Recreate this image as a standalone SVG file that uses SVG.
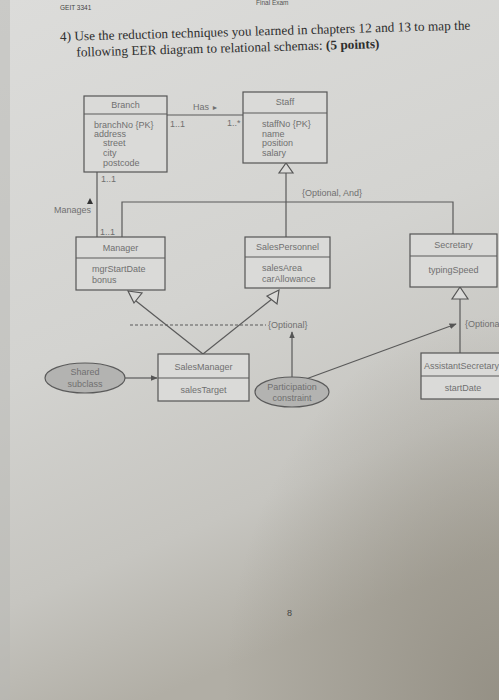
<svg xmlns="http://www.w3.org/2000/svg" width="499" height="700" viewBox="0 0 499 700">
<defs>
<linearGradient id="bg" x1="0" y1="0" x2="0.3" y2="1">
<stop offset="0" stop-color="#dcdcda"/>
<stop offset="0.5" stop-color="#d3d3d0"/>
<stop offset="0.8" stop-color="#c6c5c0"/>
<stop offset="1" stop-color="#b1aea5"/>
</linearGradient>
<radialGradient id="shade" cx="1" cy="1" r="0.55">
<stop offset="0" stop-color="#8c877b" stop-opacity="0.75"/>
<stop offset="1" stop-color="#8c877b" stop-opacity="0"/>
</radialGradient>
<marker id="ah" viewBox="0 0 10 10" refX="9" refY="5" markerWidth="6" markerHeight="6" orient="auto">
<path d="M0,1 L10,5 L0,9 z" fill="#555"/>
</marker>
<style>
.ln{stroke:#5a5a5a;stroke-width:1.2;fill:none}
.box{stroke:#555;stroke-width:1.2;fill:#dadad8}
.t{font-family:"Liberation Sans",Arial,sans-serif;font-size:9px;fill:#707070}
.tc{text-anchor:middle}
.ell{fill:#b3b3b1;stroke:#5a5a5a;stroke-width:1.2}
.tri{fill:#dadad8;stroke:#555;stroke-width:1.2}
.q{font-family:"Liberation Serif","Times New Roman",serif;font-size:13.3px;fill:#2e2e2e}
</style>
</defs>
<rect width="499" height="700" fill="url(#bg)"/>
<rect width="499" height="700" fill="url(#shade)"/>
<rect x="0" y="0" width="10" height="700" fill="#b8b8b4" opacity="0.5"/>

<text x="60" y="10" style="font-family:'Liberation Sans',Arial,sans-serif;font-size:6.5px;fill:#444">GEIT 3341</text>
<text x="256" y="5" style="font-family:'Liberation Sans',Arial,sans-serif;font-size:6.5px;fill:#555">Final Exam</text>
<g transform="rotate(-1.6 60 40)">
<text class="q" x="60" y="41">4)  Use the reduction techniques you learned in chapters 12 and 13 to map the</text>
<text class="q" x="76" y="57">following EER diagram to relational schemas:   <tspan font-weight="bold">(5 points)</tspan></text>
</g>

<g id="connectors">
<line class="ln" x1="167" y1="115" x2="243" y2="115"/>
<line class="ln" x1="97" y1="172" x2="97" y2="237"/>
<polyline class="ln" points="122,237 122,202 453,202 453,234"/>
<line class="ln" x1="286" y1="173" x2="286" y2="237"/>
<line class="ln" x1="460" y1="299" x2="460" y2="353"/>
<line class="ln" x1="136" y1="301" x2="203" y2="354"/>
<line class="ln" x1="272" y1="299" x2="203" y2="354"/>
<line class="ln" x1="130" y1="325" x2="266" y2="325" stroke-dasharray="3,2"/>
<line class="ln" x1="125" y1="378" x2="157" y2="378" marker-end="url(#ah)"/>
<line class="ln" x1="292" y1="377" x2="292" y2="332" marker-end="url(#ah)"/>
<line class="ln" x1="306" y1="379" x2="456" y2="324" marker-end="url(#ah)"/>
<polygon class="tri" points="286,163 279,173 293,173"/>
<polygon class="tri" points="460,287 452,299 468,299"/>
<polygon class="tri" points="128,291 142,293 134,303"/>
<polygon class="tri" points="279,290 277,304 267,296"/>
<path d="M87,204 L90,198 L93,204 z" fill="#333"/>
<text class="t" x="193" y="110">Has <tspan font-size="7">►</tspan></text>
<text class="t" x="170" y="127">1..1</text>
<text class="t" x="227" y="126">1..*</text>
<text class="t" x="101" y="182">1..1</text>
<text class="t" x="54" y="213">Manages</text>
<text class="t" x="100" y="235">1..1</text>
<text class="t" x="302" y="196">{Optional, And}</text>
<text class="t" x="268" y="328">{Optional}</text>
<text class="t" x="465" y="327">{Optional}</text>
</g>

<g id="branch">
<rect class="box" x="84" y="96" width="83" height="76"/>
<line class="ln" x1="84" y1="114" x2="167" y2="114"/>
<text class="t tc" x="125.5" y="108">Branch</text>
<text class="t" x="94" y="128">branchNo {PK}</text>
<text class="t" x="94" y="137">address</text>
<text class="t" x="103" y="146">street</text>
<text class="t" x="103" y="156">city</text>
<text class="t" x="103" y="166">postcode</text>
</g>

<g id="staff">
<rect class="box" x="243" y="92" width="84" height="71"/>
<line class="ln" x1="243" y1="113" x2="327" y2="113"/>
<text class="t tc" x="285" y="105">Staff</text>
<text class="t" x="262" y="127">staffNo {PK}</text>
<text class="t" x="262" y="137">name</text>
<text class="t" x="262" y="146">position</text>
<text class="t" x="262" y="156">salary</text>
</g>

<g id="manager">
<rect class="box" x="76" y="237" width="89" height="53"/>
<line class="ln" x1="76" y1="258" x2="165" y2="258"/>
<text class="t tc" x="120.5" y="251">Manager</text>
<text class="t" x="92" y="272">mgrStartDate</text>
<text class="t" x="92" y="283">bonus</text>
</g>

<g id="salespersonnel">
<rect class="box" x="245" y="237" width="85" height="51"/>
<line class="ln" x1="245" y1="257" x2="330" y2="257"/>
<text class="t tc" x="287.5" y="250">SalesPersonnel</text>
<text class="t" x="262" y="271">salesArea</text>
<text class="t" x="262" y="282">carAllowance</text>
</g>

<g id="secretary">
<rect class="box" x="410" y="234" width="87" height="53"/>
<line class="ln" x1="410" y1="256" x2="497" y2="256"/>
<text class="t tc" x="453.5" y="248">Secretary</text>
<text class="t tc" x="453.5" y="273">typingSpeed</text>
</g>

<g id="assistantsecretary">
<rect class="box" x="421" y="353" width="90" height="46"/>
<line class="ln" x1="421" y1="376" x2="511" y2="376"/>
<text class="t" x="424" y="369">AssistantSecretary</text>
<text class="t tc" x="463" y="391">startDate</text>
</g>

<g id="salesmanager">
<rect class="box" x="158" y="354" width="91" height="47"/>
<line class="ln" x1="158" y1="378" x2="249" y2="378"/>
<text class="t tc" x="203.5" y="370" font-size="10">SalesManager</text>
<text class="t tc" x="203.5" y="393" font-size="10">salesTarget</text>
</g>

<g id="shared-subclass">
<ellipse class="ell" cx="85" cy="378" rx="40" ry="15"/>
<text class="t tc" x="85" y="375">Shared</text>
<text class="t tc" x="85" y="387">subclass</text>
</g>

<g id="participation-constraint">
<ellipse class="ell" cx="292" cy="392" rx="37" ry="15"/>
<text class="t tc" x="292" y="390">Participation</text>
<text class="t tc" x="292" y="401">constraint</text>
</g>

<text x="287" y="616" style="font-family:'Liberation Sans',Arial,sans-serif;font-size:9px;fill:#444">8</text>
</svg>
